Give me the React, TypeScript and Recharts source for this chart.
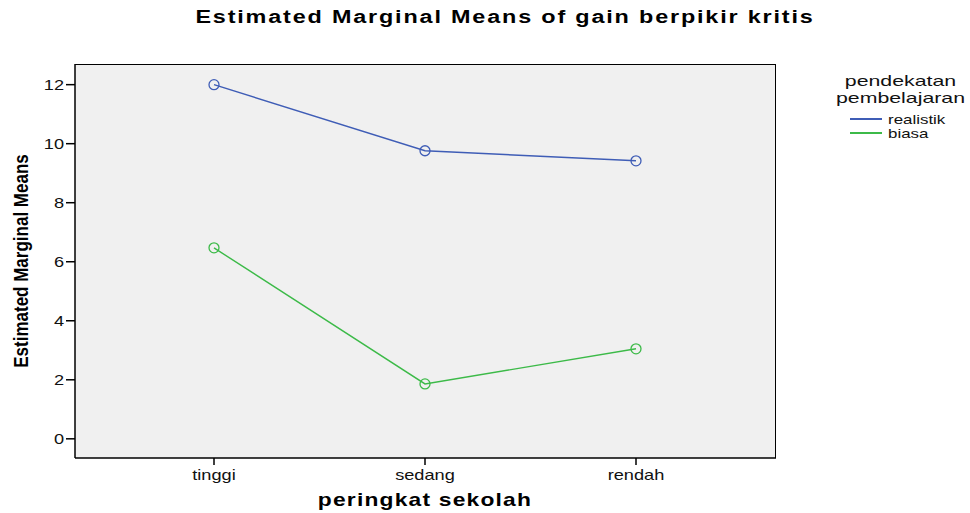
import React from "react";
import { LineChart, Line, XAxis, YAxis, CartesianGrid } from "recharts";

// categories on the x axis
const peringkat = ["tinggi", "sedang", "rendah"];
// estimated marginal means per approach
const realistik = [12.0, 9.76, 9.42];
const biasa = [6.47, 1.86, 3.05];
const yTicks = [0, 2, 4, 6, 8, 10, 12];

const BLUE = "#3f5db6";
const GREEN = "#3cba48";

const data = peringkat.map((name, i) => ({
  name,
  realistik: realistik[i],
  biasa: biasa[i],
}));

const seriesList = [
  { key: "realistik", color: BLUE },
  { key: "biasa", color: GREEN },
];

const font = "'Liberation Sans', Arial, sans-serif";
const STRETCH = 1.3;

// SPSS output looks horizontally stretched, so ticks get a scaleX
function XTick(props: any) {
  const { x, y, payload } = props;
  return (
    <g transform={`translate(${x},${y})`}>
      <text
        transform={`scale(${STRETCH},1)`}
        textAnchor="middle"
        dy={13}
        fontSize={14}
        fontFamily={font}
        fill="#111"
      >
        {payload.value}
      </text>
    </g>
  );
}

function YTick(props: any) {
  const { x, y, payload } = props;
  return (
    <g transform={`translate(${x},${y})`}>
      <text
        transform={`scale(${STRETCH},1)`}
        textAnchor="end"
        dy={5}
        fontSize={14}
        fontFamily={font}
        fill="#111"
      >
        {payload.value}
      </text>
    </g>
  );
}

function LegendBox() {
  return (
    <div style={{ position: "absolute", left: 834, top: 72, width: 133, fontFamily: font, color: "#111" }}>
      <div
        style={{
          fontSize: 15,
          lineHeight: "17px",
          textAlign: "center",
          transform: "scaleX(1.42)",
          transformOrigin: "center",
        }}
      >
        pendekatan
        <br />
        pembelajaran
      </div>
      <div style={{ position: "absolute", top: 40, left: 16 }}>
        {seriesList.map((s) => (
          <div key={s.key} style={{ display: "flex", alignItems: "center", height: 14, fontSize: 13 }}>
            <span style={{ display: "inline-block", width: 32, height: 1.6, background: s.color, marginRight: 6 }} />
            <span style={{ display: "inline-block", transform: "scaleX(1.3)", transformOrigin: "left" }}>{s.key}</span>
          </div>
        ))}
      </div>
    </div>
  );
}

export default function App() {
  return (
    <div style={{ position: "absolute", left: 0, top: 0, width: 970, height: 513, background: "#fff", overflow: "hidden" }}>
      <div
        style={{
          position: "absolute",
          top: 7,
          left: 505,
          whiteSpace: "nowrap",
          fontFamily: font,
          fontWeight: "bold",
          fontSize: 18,
          letterSpacing: 1.4,
          color: "#000",
          transform: "translateX(-50%) scaleX(1.3)",
        }}
      >
        Estimated Marginal Means of gain berpikir kritis
      </div>
      <div
        style={{
          position: "absolute",
          top: 489,
          left: 425,
          whiteSpace: "nowrap",
          fontFamily: font,
          fontWeight: "bold",
          fontSize: 19,
          letterSpacing: 1,
          color: "#000",
          transform: "translateX(-50%) scaleX(1.2)",
        }}
      >
        peringkat sekolah
      </div>
      <div
        style={{
          position: "absolute",
          top: 261,
          left: 21,
          whiteSpace: "nowrap",
          fontFamily: font,
          fontWeight: "bold",
          fontSize: 21,
          lineHeight: "24px",
          color: "#000",
          transform: "translate(-50%,-50%) rotate(-90deg) scaleX(0.81)",
        }}
      >
        Estimated Marginal Means
      </div>
      <LegendBox />
      <LineChart
        width={970}
        height={513}
        data={data}
        margin={{ top: 64, right: 194, bottom: 0, left: 0 }}
        style={{ position: "absolute", left: 0, top: 0 }}
      >
        <CartesianGrid fill="#f0f0f0" stroke="#000" horizontal={false} vertical={false} />
        <XAxis
          dataKey="name"
          padding={{ left: 139, right: 140 }}
          axisLine={{ stroke: "#000", strokeWidth: 1.5 }}
          tickLine={{ stroke: "#000", strokeWidth: 1.5 }}
          tickSize={7}
          height={55}
          tick={<XTick />}
        />
        <YAxis
          domain={[-0.65, 12.7]}
          ticks={yTicks}
          width={75}
          allowDataOverflow
          axisLine={{ stroke: "#000", strokeWidth: 1.5 }}
          tickLine={{ stroke: "#000", strokeWidth: 1.5 }}
          tickSize={9}
          tick={<YTick />}
        />
        {seriesList.map((s) => (
          <Line
            key={s.key}
            dataKey={s.key}
            type="linear"
            stroke={s.color}
            strokeWidth={1.4}
            dot={{ r: 5, stroke: s.color, strokeWidth: 1.3, fill: "none" }}
            activeDot={false}
            isAnimationActive={false}
          />
        ))}
      </LineChart>
      <div
        style={{
          position: "absolute",
          left: 75,
          top: 64,
          width: 701,
          height: 394,
          boxSizing: "border-box",
          borderTop: "1.5px solid #000",
          borderRight: "1.5px solid #000",
          pointerEvents: "none",
        }}
      />
    </div>
  );
}
